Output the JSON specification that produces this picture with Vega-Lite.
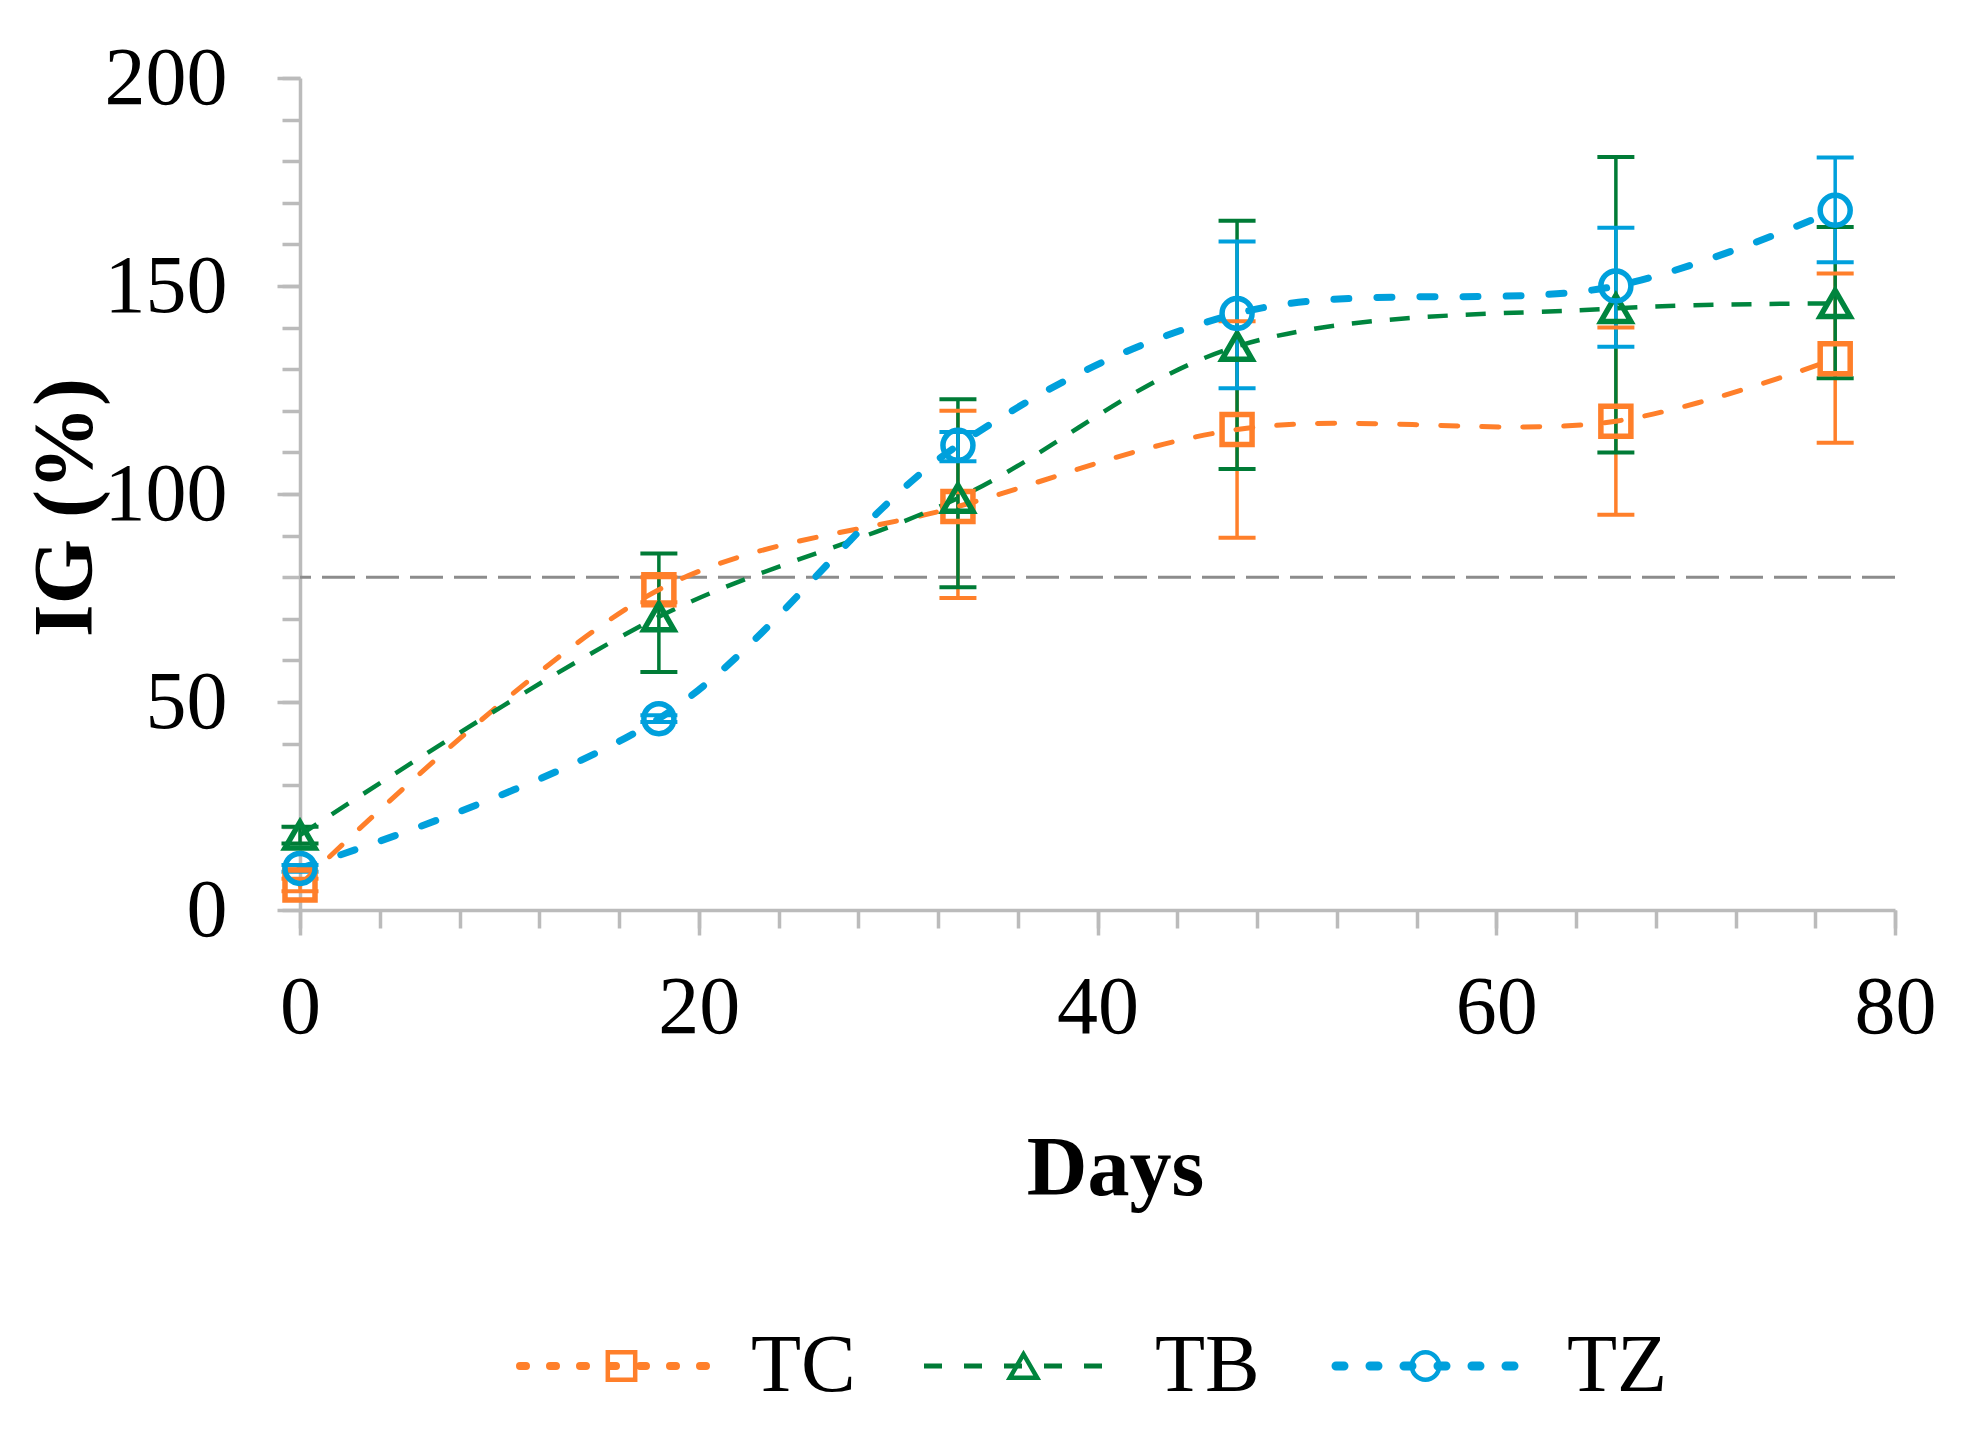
{
  "$schema": "https://vega.github.io/schema/vega-lite/v6.json",
  "width": 1595,
  "height": 832,
  "autosize": {"type": "none"},
  "padding": {"left": 300, "top": 78, "right": 80, "bottom": 527},
  "background": "white",
  "config": {
    "view": {"stroke": null},
    "axis": {
      "grid": false,
      "domainColor": "#BBBBBB",
      "domainWidth": 3.5,
      "tickColor": "#BBBBBB",
      "tickWidth": 3.5,
      "labelFont": "Liberation Serif",
      "labelFontSize": 82,
      "labelColor": "black",
      "labelFlush": false,
      "labelOverlap": false,
      "titleFont": "Liberation Serif",
      "titleFontSize": 84,
      "titleFontWeight": "bold",
      "titleColor": "black"
    }
  },
  "datasets": {
    "ig": [
      {"series": "TC", "day": 0, "value": 6, "lo": 4.5, "hi": 7.5},
      {"series": "TC", "day": 18, "value": 77, "lo": 74, "hi": 80},
      {"series": "TC", "day": 33, "value": 97, "lo": 75, "hi": 120},
      {"series": "TC", "day": 47, "value": 115.5, "lo": 89.5, "hi": 141.5},
      {"series": "TC", "day": 66, "value": 117.5, "lo": 95, "hi": 140},
      {"series": "TC", "day": 77, "value": 132.5, "lo": 112.3, "hi": 153},
      {"series": "TB", "day": 0, "value": 18, "lo": 16, "hi": 20},
      {"series": "TB", "day": 18, "value": 70.5, "lo": 57.2, "hi": 85.7},
      {"series": "TB", "day": 33, "value": 99, "lo": 77.6, "hi": 122.8},
      {"series": "TB", "day": 47, "value": 135.5, "lo": 106, "hi": 165.7},
      {"series": "TB", "day": 66, "value": 144.6, "lo": 110, "hi": 181},
      {"series": "TB", "day": 77, "value": 145.8, "lo": 127.8, "hi": 164.2},
      {"series": "TZ", "day": 0, "value": 10, "lo": 9.2, "hi": 10.8},
      {"series": "TZ", "day": 18, "value": 46, "lo": 45.2, "hi": 46.8},
      {"series": "TZ", "day": 33, "value": 111.7, "lo": 107.9, "hi": 114.9},
      {"series": "TZ", "day": 47, "value": 143.4, "lo": 125.4, "hi": 160.7},
      {"series": "TZ", "day": 66, "value": 150, "lo": 135.4, "hi": 164},
      {"series": "TZ", "day": 77, "value": 168.2, "lo": 155.7, "hi": 180.9}
    ]
  },
  "data": {"name": "ig"},
  "layer": [
    {
      "data": {"values": [{"ref": "threshold"}]},
      "mark": {"type": "rule", "color": "#8C8C8C", "strokeWidth": 3, "strokeDash": [33, 11]},
      "encoding": {
        "y": {"datum": 80, "type": "quantitative", "axis": null}
      }
    },
    {
      "mark": {"type": "rule", "strokeWidth": 3.5},
      "encoding": {
        "x": {
          "field": "day", "type": "quantitative",
          "scale": {"domain": [0, 80], "nice": false},
          "axis": {"orient": "bottom", "values": [0,4,8,12,16,20,24,28,32,36,40,44,48,52,56,60,64,68,72,76,80], "tickSize": 18, "labels": false, "domain": false, "title": null}
        },
        "y": {
          "field": "lo", "type": "quantitative",
          "scale": {"domain": [0, 200], "nice": false},
          "axis": {"orient": "left", "values": [0,10,20,30,40,50,60,70,80,90,100,110,120,130,140,150,160,170,180,190,200], "tickSize": 18, "labels": false, "domain": false, "title": null}
        },
        "y2": {"field": "hi"},
        "color": {"field": "series", "type": "nominal"}
      }
    },
    {
      "mark": {"type": "tick", "orient": "horizontal", "size": 37, "thickness": 4, "opacity": 1},
      "encoding": {
        "x": {"field": "day", "type": "quantitative", "axis": null},
        "y": {"field": "lo", "type": "quantitative", "axis": null},
        "color": {"field": "series", "type": "nominal"}
      }
    },
    {
      "mark": {"type": "tick", "orient": "horizontal", "size": 37, "thickness": 4, "opacity": 1},
      "encoding": {
        "x": {"field": "day", "type": "quantitative", "axis": null},
        "y": {"field": "hi", "type": "quantitative", "axis": null},
        "color": {"field": "series", "type": "nominal"}
      }
    },
    {
      "transform": [{"filter": "datum.series === 'TC'"}],
      "mark": {"type": "line", "interpolate": "catmull-rom", "strokeWidth": 5, "strokeDash": [17, 24], "strokeCap": "round"},
      "encoding": {
        "x": {
          "field": "day", "type": "quantitative",
          "axis": {"orient": "bottom", "values": [0, 20, 40, 60, 80], "tickSize": 25, "labelPadding": 32, "title": "Days", "titlePadding": 80, "titleX": 815}
        },
        "y": {
          "field": "value", "type": "quantitative",
          "axis": {"orient": "left", "values": [0, 50, 100, 150, 200], "tickSize": 23, "labelPadding": 50, "title": "IG (%)", "titlePadding": -5, "titleY": 429}
        },
        "color": {
          "field": "series", "type": "nominal",
          "scale": {"domain": ["TC", "TB", "TZ"], "range": ["#FF7F2A", "#007B36", "#00A0DC"]},
          "legend": {
            "orient": "none", "legendX": 279, "legendY": 1247,
            "direction": "horizontal", "title": null,
            "symbolType": "stroke", "symbolSize": 40000, "symbolStrokeWidth": 5,
            "labelFont": "Liberation Serif", "labelFontSize": 82, "labelColor": "black",
            "labelOffset": 90, "columnPadding": 58, "padding": 0,
            "encode": {
              "symbols": {
                "update": {
                  "strokeDash": {"signal": "datum.value === 'TB' ? [18, 22] : datum.value === 'TC' ? [6, 24] : [8, 26]"},
                  "strokeWidth": {"signal": "datum.value === 'TB' ? 5 : datum.value === 'TC' ? 8 : 9"},
                  "strokeCap": {"signal": "datum.value === 'TB' ? 'butt' : 'round'"}
                }
              }
            }
          }
        }
      }
    },
    {
      "transform": [{"filter": "datum.series === 'TB'"}],
      "mark": {"type": "line", "interpolate": "catmull-rom", "strokeWidth": 4.5, "strokeDash": [20, 18], "strokeCap": "butt", "color": "#00853E"},
      "encoding": {
        "x": {"field": "day", "type": "quantitative", "axis": null},
        "y": {"field": "value", "type": "quantitative", "axis": null}
      }
    },
    {
      "transform": [{"filter": "datum.series === 'TZ'"}],
      "mark": {"type": "line", "interpolate": "catmull-rom", "strokeWidth": 7, "strokeDash": [15, 28], "strokeCap": "round"},
      "encoding": {
        "x": {"field": "day", "type": "quantitative", "axis": null},
        "y": {"field": "value", "type": "quantitative", "axis": null},
        "color": {"field": "series", "type": "nominal"}
      }
    },
    {
      "mark": {"type": "point", "filled": false, "size": 900, "strokeWidth": 5.5, "opacity": 1},
      "encoding": {
        "x": {"field": "day", "type": "quantitative", "axis": null},
        "y": {"field": "value", "type": "quantitative", "axis": null},
        "stroke": {
          "field": "series", "type": "nominal",
          "scale": {"range": ["#00853E", "#FF7F2A", "#00A0DC"]},
          "legend": {
            "orient": "none", "legendX": 280.5, "legendY": 1247,
            "direction": "horizontal", "title": null,
            "values": ["TC", "TB", "TZ"],
            "symbolSize": 750, "symbolStrokeWidth": 4.5,
            "labelFont": "Liberation Serif", "labelFontSize": 82, "labelColor": "black",
            "labelExpr": "''",
            "labelOffset": 246, "columnPadding": 74, "padding": 0
          }
        },
        "shape": {
          "field": "series", "type": "nominal",
          "scale": {"range": ["triangle-up", "square", "circle"]},
          "legend": {
            "orient": "none", "legendX": 280.5, "legendY": 1247,
            "direction": "horizontal", "title": null,
            "values": ["TC", "TB", "TZ"],
            "symbolSize": 750, "symbolStrokeWidth": 4.5,
            "labelFont": "Liberation Serif", "labelFontSize": 82, "labelColor": "black",
            "labelExpr": "''",
            "labelOffset": 246, "columnPadding": 74, "padding": 0
          }
        }
      }
    }
  ],
  "resolve": {"axis": {"x": "independent", "y": "independent"}}
}
